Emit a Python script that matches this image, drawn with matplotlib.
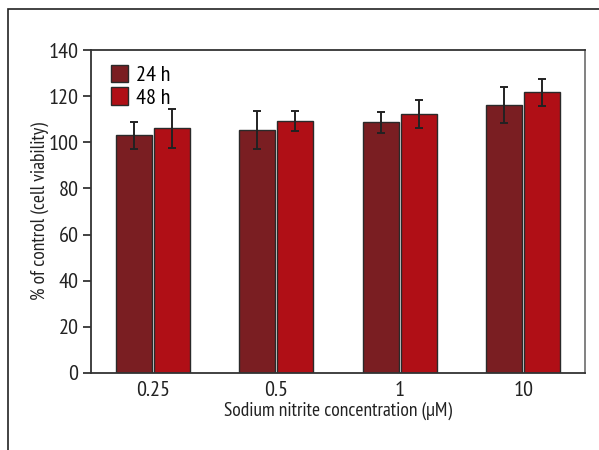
import numpy as np
import matplotlib
matplotlib.use('Agg')
import matplotlib.pyplot as plt
from matplotlib.patches import Rectangle

plt.rcParams['font.family'] = ['PT Sans Narrow', 'DejaVu Sans']

# data
concs = ['0.25', '0.5', '1', '10']
mean_24h = [103.0, 105.2, 108.7, 116.2]
err_24h = [5.8, 8.2, 4.6, 7.8]
mean_48h = [106.1, 109.2, 112.3, 121.6]
err_48h = [8.5, 4.5, 6.2, 5.7]

c24 = '#7a1e22'
c48 = '#b00f16'

fig = plt.figure(figsize=(5.99, 4.5), dpi=100)

# outer frame, only left and top edges fall inside the image
fig.add_artist(Rectangle((8/599, -0.1), 1.2, 1 - 9/450 + 0.1, transform=fig.transFigure,
                         fill=False, edgecolor='#222222', linewidth=1.2))

ax = fig.add_axes([91/599, 1 - 373/450, 494/599, 323/450])

x = np.arange(len(concs))
w = 0.29
off = 0.153
ax.bar(x - off, mean_24h, w, color=c24, edgecolor='#2a2a2a', linewidth=1.0,
       yerr=err_24h, capsize=3, error_kw=dict(ecolor='#222222', elinewidth=1.4, capthick=1.4),
       label='24 h', zorder=2)
ax.bar(x + off, mean_48h, w, color=c48, edgecolor='#2a2a2a', linewidth=1.0,
       yerr=err_48h, capsize=3, error_kw=dict(ecolor='#222222', elinewidth=1.4, capthick=1.4),
       label='48 h', zorder=2)

ax.set_xlim(-0.5, 3.5)
ax.set_ylim(0, 140)
ax.set_yticks(range(0, 141, 20))
ax.set_xticks(x)
ax.set_xticklabels(concs)
ax.tick_params(axis='y', direction='out', length=6, width=1.2, labelsize=16, pad=3, colors='#222222')
ax.tick_params(axis='x', length=0, labelsize=16, pad=6, colors='#222222')

for s in ['left', 'bottom', 'top']:
    ax.spines[s].set_color('#333333')
    ax.spines[s].set_linewidth(1.3)
ax.spines['right'].set_color('#777777')
ax.spines['right'].set_linewidth(1.3)

ax.set_ylabel('% of control (cell viability)', fontsize=14, color='#222222')
ax.yaxis.set_label_coords(-0.085, 0.5)
ax.set_xlabel('Sodium nitrite concentration (\u00b5M)', fontsize=14, color='#222222', labelpad=1)

leg = ax.legend(loc='upper left', bbox_to_anchor=(0.005, 1.01), frameon=False, fontsize=16,
                handlelength=0.75, handleheight=0.85, handletextpad=0.35, labelspacing=0.1,
                borderaxespad=0.4)

fig.savefig('out.png', dpi=100)
